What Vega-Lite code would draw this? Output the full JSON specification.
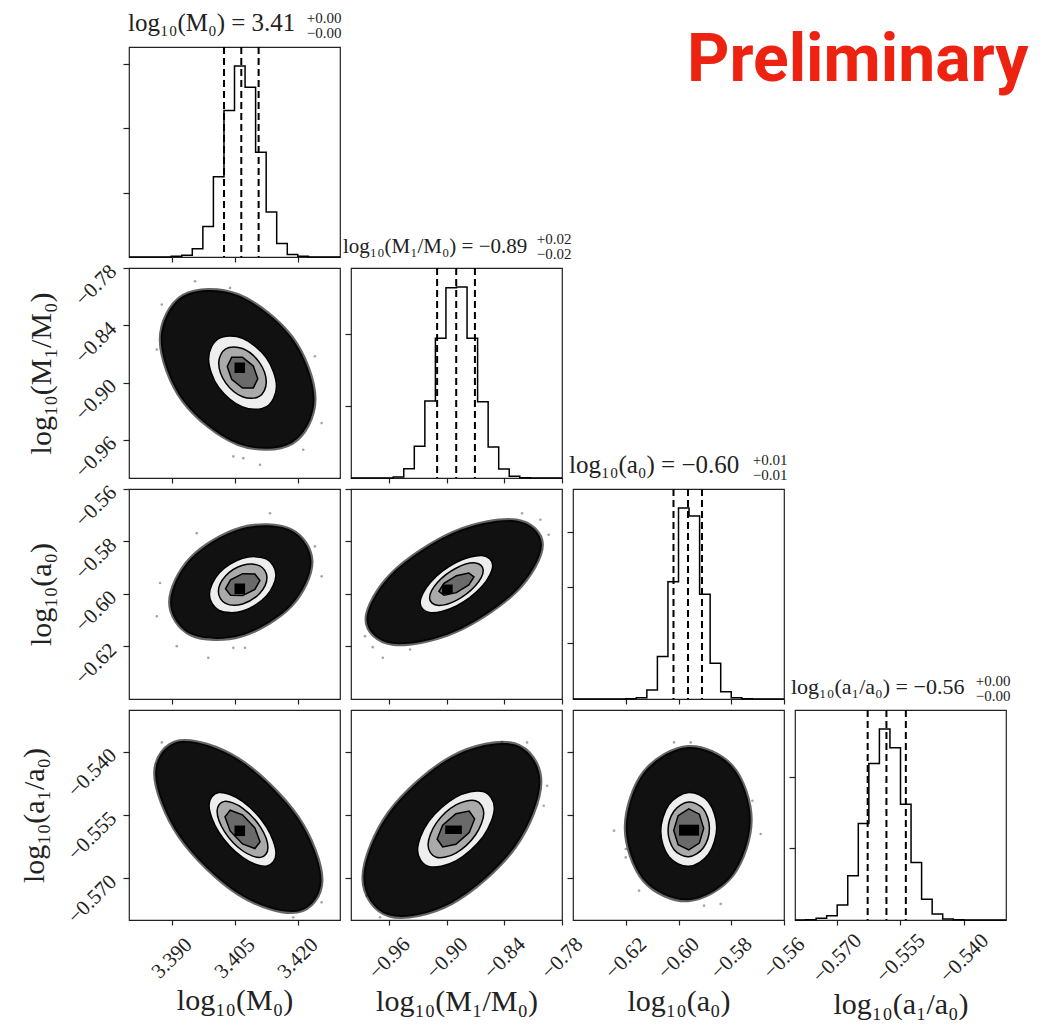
{
"$schema":"https://vega.github.io/schema/vega-lite/v6.json",
"background":"white",
"padding":{"left":18,"top":9,"right":0,"bottom":0},
"columns":4,
"spacing":{"row":11,"column":11},
"bounds":"flush",
"config":{
"font":"Liberation Serif",
"view":{"stroke":"#222","strokeWidth":1.2},
"axis":{"domain":false,"grid":false,"tickColor":"#222","tickWidth":1.2,"labelFont":"Liberation Serif","labelFontSize":21,"labelColor":"#222","labelFlush":false,"labelOverlap":false,"titleFont":"Liberation Serif","titleFontSize":30,"titleFontWeight":"normal","titleColor":"#222"},
"axisX":{"tickSize":5,"labelAngle":-45,"labelAlign":"center","labelBaseline":"middle","labelPadding":33,"titlePadding":4},
"axisY":{"tickSize":6,"labelAngle":-45,"labelAlign":"right","labelBaseline":"middle","labelPadding":10,"titlePadding":14},
"title":{"font":"Liberation Serif","fontSize":24,"fontWeight":"normal","color":"#222","anchor":"start","baseline":"alphabetic","offset":0,"frame":"group"}
},
"datasets":{
"hist":[
{"v":"A","e":3.3798,"c":0},{"v":"A","e":3.38986,"c":100},{"v":"A","e":3.39238,"c":260},{"v":"A","e":3.39489,"c":1300},{"v":"A","e":3.39741,"c":4750},{"v":"A","e":3.39992,"c":12500},{"v":"A","e":3.40244,"c":22800},{"v":"A","e":3.40495,"c":29700},{"v":"A","e":3.40747,"c":26400},{"v":"A","e":3.40998,"c":16300},{"v":"A","e":3.4125,"c":7000},{"v":"A","e":3.41501,"c":2100},{"v":"A","e":3.41753,"c":400},{"v":"A","e":3.42004,"c":100},{"v":"A","e":3.42256,"c":0},{"v":"A","e":3.4301,"c":0},
{"v":"B","e":-1.0,"c":0},{"v":"B","e":-0.956,"c":140},{"v":"B","e":-0.945,"c":1300},{"v":"B","e":-0.934,"c":4400},{"v":"B","e":-0.923,"c":10700},{"v":"B","e":-0.912,"c":19400},{"v":"B","e":-0.901,"c":26400},{"v":"B","e":-0.89,"c":26500},{"v":"B","e":-0.879,"c":19400},{"v":"B","e":-0.868,"c":10600},{"v":"B","e":-0.857,"c":4300},{"v":"B","e":-0.846,"c":1250},{"v":"B","e":-0.835,"c":230},{"v":"B","e":-0.824,"c":50},{"v":"B","e":-0.813,"c":0},{"v":"B","e":-0.78,"c":0},
{"v":"C","e":-0.64,"c":0},{"v":"C","e":-0.62,"c":50},{"v":"C","e":-0.616,"c":240},{"v":"C","e":-0.612,"c":1600},{"v":"C","e":-0.608,"c":7600},{"v":"C","e":-0.604,"c":21000},{"v":"C","e":-0.6,"c":34200},{"v":"C","e":-0.596,"c":32800},{"v":"C","e":-0.592,"c":18750},{"v":"C","e":-0.588,"c":6400},{"v":"C","e":-0.584,"c":1300},{"v":"C","e":-0.58,"c":240},{"v":"C","e":-0.576,"c":30},{"v":"C","e":-0.572,"c":0},{"v":"C","e":-0.56,"c":0},
{"v":"D","e":-0.5799,"c":0},{"v":"D","e":-0.57741,"c":50},{"v":"D","e":-0.57492,"c":230},{"v":"D","e":-0.57243,"c":600},{"v":"D","e":-0.56994,"c":2100},{"v":"D","e":-0.56745,"c":6200},{"v":"D","e":-0.56496,"c":13500},{"v":"D","e":-0.56247,"c":21900},{"v":"D","e":-0.55998,"c":26700},{"v":"D","e":-0.55749,"c":24100},{"v":"D","e":-0.555,"c":16200},{"v":"D","e":-0.55251,"c":8050},{"v":"D","e":-0.55002,"c":2900},{"v":"D","e":-0.54753,"c":840},{"v":"D","e":-0.54504,"c":140},{"v":"D","e":-0.54255,"c":50},{"v":"D","e":-0.54006,"c":0},{"v":"D","e":-0.5301,"c":0}
],
"q":[
{"v":"A","q":3.40245},{"v":"A","q":3.40657},{"v":"A","q":3.4107},
{"v":"B","q":-0.9102},{"v":"B","q":-0.8903},{"v":"B","q":-0.8708},
{"v":"C","q":-0.6019},{"v":"C","q":-0.5964},{"v":"C","q":-0.5911},
{"v":"D","q":-0.56275},{"v":"D","q":-0.55832},{"v":"D","q":-0.55374}
],
"poly":[
{"p":"21","l":"c","k":0,"x":3.42403,"y":-0.91725},{"p":"21","l":"c","k":1,"x":3.41866,"y":-0.85305},{"p":"21","l":"c","k":2,"x":3.4057,"y":-0.80824},{"p":"21","l":"c","k":3,"x":3.39274,"y":-0.80916},{"p":"21","l":"c","k":4,"x":3.38737,"y":-0.85515},{"p":"21","l":"c","k":5,"x":3.39274,"y":-0.91935},{"p":"21","l":"c","k":6,"x":3.4057,"y":-0.96416},{"p":"21","l":"c","k":7,"x":3.41866,"y":-0.96324},
{"p":"21","l":"o","k":0,"x":3.41496,"y":-0.90398},{"p":"21","l":"o","k":1,"x":3.41258,"y":-0.87429},{"p":"21","l":"o","k":2,"x":3.40686,"y":-0.85357},{"p":"21","l":"o","k":3,"x":3.40114,"y":-0.85399},{"p":"21","l":"o","k":4,"x":3.39877,"y":-0.87526},{"p":"21","l":"o","k":5,"x":3.40114,"y":-0.90495},{"p":"21","l":"o","k":6,"x":3.40686,"y":-0.92567},{"p":"21","l":"o","k":7,"x":3.41258,"y":-0.92525},
{"p":"21","l":"m","k":0,"x":3.41253,"y":-0.89967},{"p":"21","l":"m","k":1,"x":3.41087,"y":-0.87889},{"p":"21","l":"m","k":2,"x":3.40686,"y":-0.86438},{"p":"21","l":"m","k":3,"x":3.40285,"y":-0.86468},{"p":"21","l":"m","k":4,"x":3.40119,"y":-0.87957},{"p":"21","l":"m","k":5,"x":3.40285,"y":-0.90035},{"p":"21","l":"m","k":6,"x":3.40686,"y":-0.91486},{"p":"21","l":"m","k":7,"x":3.41087,"y":-0.91456},
{"p":"21","l":"i","k":0,"x":3.4105,"y":-0.89608},{"p":"21","l":"i","k":1,"x":3.40944,"y":-0.88272},{"p":"21","l":"i","k":2,"x":3.40686,"y":-0.8734},{"p":"21","l":"i","k":3,"x":3.40428,"y":-0.87359},{"p":"21","l":"i","k":4,"x":3.40322,"y":-0.88316},{"p":"21","l":"i","k":5,"x":3.40428,"y":-0.89652},{"p":"21","l":"i","k":6,"x":3.40686,"y":-0.90584},{"p":"21","l":"i","k":7,"x":3.40944,"y":-0.90565},
{"p":"31","l":"c","k":0,"x":3.42331,"y":-0.58783},{"p":"31","l":"c","k":1,"x":3.41837,"y":-0.5756},{"p":"31","l":"c","k":2,"x":3.40645,"y":-0.57501},{"p":"31","l":"c","k":3,"x":3.39453,"y":-0.58641},{"p":"31","l":"c","k":4,"x":3.38959,"y":-0.60313},{"p":"31","l":"c","k":5,"x":3.39453,"y":-0.61536},{"p":"31","l":"c","k":6,"x":3.40645,"y":-0.61595},{"p":"31","l":"c","k":7,"x":3.41837,"y":-0.60455},
{"p":"31","l":"o","k":0,"x":3.41483,"y":-0.59267},{"p":"31","l":"o","k":1,"x":3.41251,"y":-0.58664},{"p":"31","l":"o","k":2,"x":3.4069,"y":-0.58635},{"p":"31","l":"o","k":3,"x":3.40129,"y":-0.59197},{"p":"31","l":"o","k":4,"x":3.39897,"y":-0.60019},{"p":"31","l":"o","k":5,"x":3.40129,"y":-0.60622},{"p":"31","l":"o","k":6,"x":3.4069,"y":-0.60651},{"p":"31","l":"o","k":7,"x":3.41251,"y":-0.60089},
{"p":"31","l":"m","k":0,"x":3.41269,"y":-0.59368},{"p":"31","l":"m","k":1,"x":3.41099,"y":-0.58929},{"p":"31","l":"m","k":2,"x":3.4069,"y":-0.58908},{"p":"31","l":"m","k":3,"x":3.40281,"y":-0.59317},{"p":"31","l":"m","k":4,"x":3.40111,"y":-0.59918},{"p":"31","l":"m","k":5,"x":3.40281,"y":-0.60357},{"p":"31","l":"m","k":6,"x":3.4069,"y":-0.60379},{"p":"31","l":"m","k":7,"x":3.41099,"y":-0.59969},
{"p":"31","l":"i","k":0,"x":3.411,"y":-0.59487},{"p":"31","l":"i","k":1,"x":3.4098,"y":-0.59238},{"p":"31","l":"i","k":2,"x":3.4069,"y":-0.59226},{"p":"31","l":"i","k":3,"x":3.40401,"y":-0.59458},{"p":"31","l":"i","k":4,"x":3.40281,"y":-0.59799},{"p":"31","l":"i","k":5,"x":3.40401,"y":-0.60048},{"p":"31","l":"i","k":6,"x":3.4069,"y":-0.6006},{"p":"31","l":"i","k":7,"x":3.4098,"y":-0.59828},
{"p":"41","l":"c","k":0,"x":3.42569,"y":-0.57033},{"p":"41","l":"c","k":1,"x":3.41988,"y":-0.55535},{"p":"41","l":"c","k":2,"x":3.40586,"y":-0.54176},{"p":"41","l":"c","k":3,"x":3.39184,"y":-0.53753},{"p":"41","l":"c","k":4,"x":3.38603,"y":-0.54512},{"p":"41","l":"c","k":5,"x":3.39184,"y":-0.56011},{"p":"41","l":"c","k":6,"x":3.40586,"y":-0.57369},{"p":"41","l":"c","k":7,"x":3.41988,"y":-0.57792},
{"p":"41","l":"o","k":0,"x":3.41484,"y":-0.56411},{"p":"41","l":"o","k":1,"x":3.4125,"y":-0.55773},{"p":"41","l":"o","k":2,"x":3.40686,"y":-0.55175},{"p":"41","l":"o","k":3,"x":3.40122,"y":-0.54967},{"p":"41","l":"o","k":4,"x":3.39888,"y":-0.55271},{"p":"41","l":"o","k":5,"x":3.40122,"y":-0.55909},{"p":"41","l":"o","k":6,"x":3.40686,"y":-0.56507},{"p":"41","l":"o","k":7,"x":3.4125,"y":-0.56715},
{"p":"41","l":"m","k":0,"x":3.41292,"y":-0.56274},{"p":"41","l":"m","k":1,"x":3.41115,"y":-0.55789},{"p":"41","l":"m","k":2,"x":3.40686,"y":-0.55335},{"p":"41","l":"m","k":3,"x":3.40257,"y":-0.55177},{"p":"41","l":"m","k":4,"x":3.4008,"y":-0.55408},{"p":"41","l":"m","k":5,"x":3.40257,"y":-0.55893},{"p":"41","l":"m","k":6,"x":3.40686,"y":-0.56348},{"p":"41","l":"m","k":7,"x":3.41115,"y":-0.56505},
{"p":"41","l":"i","k":0,"x":3.41103,"y":-0.56137},{"p":"41","l":"i","k":1,"x":3.40981,"y":-0.55806},{"p":"41","l":"i","k":2,"x":3.40686,"y":-0.55495},{"p":"41","l":"i","k":3,"x":3.40391,"y":-0.55387},{"p":"41","l":"i","k":4,"x":3.40269,"y":-0.55545},{"p":"41","l":"i","k":5,"x":3.40391,"y":-0.55877},{"p":"41","l":"i","k":6,"x":3.40686,"y":-0.56187},{"p":"41","l":"i","k":7,"x":3.40981,"y":-0.56295},
{"p":"32","l":"c","k":0,"x":-0.80095,"y":-0.58123},{"p":"32","l":"c","k":1,"x":-0.82774,"y":-0.57197},{"p":"32","l":"c","k":2,"x":-0.89239,"y":-0.57648},{"p":"32","l":"c","k":3,"x":-0.95704,"y":-0.59213},{"p":"32","l":"c","k":4,"x":-0.98383,"y":-0.60973},{"p":"32","l":"c","k":5,"x":-0.95704,"y":-0.61899},{"p":"32","l":"c","k":6,"x":-0.89239,"y":-0.61448},{"p":"32","l":"c","k":7,"x":-0.82774,"y":-0.59883},
{"p":"32","l":"o","k":0,"x":-0.85226,"y":-0.58913},{"p":"32","l":"o","k":1,"x":-0.86334,"y":-0.58533},{"p":"32","l":"o","k":2,"x":-0.89009,"y":-0.58792},{"p":"32","l":"o","k":3,"x":-0.91684,"y":-0.59539},{"p":"32","l":"o","k":4,"x":-0.92792,"y":-0.60335},{"p":"32","l":"o","k":5,"x":-0.91684,"y":-0.60715},{"p":"32","l":"o","k":6,"x":-0.89009,"y":-0.60456},{"p":"32","l":"o","k":7,"x":-0.86334,"y":-0.59709},
{"p":"32","l":"m","k":0,"x":-0.8621,"y":-0.59098},{"p":"32","l":"m","k":1,"x":-0.8703,"y":-0.58817},{"p":"32","l":"m","k":2,"x":-0.89009,"y":-0.59009},{"p":"32","l":"m","k":3,"x":-0.90988,"y":-0.59561},{"p":"32","l":"m","k":4,"x":-0.91808,"y":-0.6015},{"p":"32","l":"m","k":5,"x":-0.90988,"y":-0.60432},{"p":"32","l":"m","k":6,"x":-0.89009,"y":-0.6024},{"p":"32","l":"m","k":7,"x":-0.8703,"y":-0.59687},
{"p":"32","l":"i","k":0,"x":-0.8718,"y":-0.59347},{"p":"32","l":"i","k":1,"x":-0.87716,"y":-0.592},{"p":"32","l":"i","k":2,"x":-0.89009,"y":-0.59301},{"p":"32","l":"i","k":3,"x":-0.90302,"y":-0.59591},{"p":"32","l":"i","k":4,"x":-0.90838,"y":-0.59901},{"p":"32","l":"i","k":5,"x":-0.90302,"y":-0.60048},{"p":"32","l":"i","k":6,"x":-0.89009,"y":-0.59948},{"p":"32","l":"i","k":7,"x":-0.87716,"y":-0.59657},
{"p":"42","l":"c","k":0,"x":-0.80252,"y":-0.54713},{"p":"42","l":"c","k":1,"x":-0.82955,"y":-0.53823},{"p":"42","l":"c","k":2,"x":-0.89479,"y":-0.54122},{"p":"42","l":"c","k":3,"x":-0.96003,"y":-0.55435},{"p":"42","l":"c","k":4,"x":-0.98706,"y":-0.56994},{"p":"42","l":"c","k":5,"x":-0.96003,"y":-0.57883},{"p":"42","l":"c","k":6,"x":-0.89479,"y":-0.57585},{"p":"42","l":"c","k":7,"x":-0.82955,"y":-0.56271},
{"p":"42","l":"o","k":0,"x":-0.85059,"y":-0.55333},{"p":"42","l":"o","k":1,"x":-0.86231,"y":-0.54943},{"p":"42","l":"o","k":2,"x":-0.89061,"y":-0.55074},{"p":"42","l":"o","k":3,"x":-0.91891,"y":-0.55649},{"p":"42","l":"o","k":4,"x":-0.93063,"y":-0.56331},{"p":"42","l":"o","k":5,"x":-0.91891,"y":-0.5672},{"p":"42","l":"o","k":6,"x":-0.89061,"y":-0.5659},{"p":"42","l":"o","k":7,"x":-0.86231,"y":-0.56015},
{"p":"42","l":"m","k":0,"x":-0.86156,"y":-0.55456},{"p":"42","l":"m","k":1,"x":-0.87007,"y":-0.55163},{"p":"42","l":"m","k":2,"x":-0.89061,"y":-0.55262},{"p":"42","l":"m","k":3,"x":-0.91115,"y":-0.55694},{"p":"42","l":"m","k":4,"x":-0.91966,"y":-0.56207},{"p":"42","l":"m","k":5,"x":-0.91115,"y":-0.565},{"p":"42","l":"m","k":6,"x":-0.89061,"y":-0.56402},{"p":"42","l":"m","k":7,"x":-0.87007,"y":-0.55969},
{"p":"42","l":"i","k":0,"x":-0.87107,"y":-0.55593},{"p":"42","l":"i","k":1,"x":-0.87679,"y":-0.55407},{"p":"42","l":"i","k":2,"x":-0.89061,"y":-0.5547},{"p":"42","l":"i","k":3,"x":-0.90443,"y":-0.55744},{"p":"42","l":"i","k":4,"x":-0.91015,"y":-0.5607},{"p":"42","l":"i","k":5,"x":-0.90443,"y":-0.56256},{"p":"42","l":"i","k":6,"x":-0.89061,"y":-0.56194},{"p":"42","l":"i","k":7,"x":-0.87679,"y":-0.55919},
{"p":"43","l":"c","k":0,"x":-0.57262,"y":-0.55615},{"p":"43","l":"c","k":1,"x":-0.57956,"y":-0.54357},{"p":"43","l":"c","k":2,"x":-0.59631,"y":-0.5389},{"p":"43","l":"c","k":3,"x":-0.61306,"y":-0.54486},{"p":"43","l":"c","k":4,"x":-0.62,"y":-0.55797},{"p":"43","l":"c","k":5,"x":-0.61306,"y":-0.57055},{"p":"43","l":"c","k":6,"x":-0.59631,"y":-0.57522},{"p":"43","l":"c","k":7,"x":-0.57956,"y":-0.56926},
{"p":"43","l":"o","k":0,"x":-0.58551,"y":-0.55797},{"p":"43","l":"o","k":1,"x":-0.58862,"y":-0.5519},{"p":"43","l":"o","k":2,"x":-0.59612,"y":-0.54965},{"p":"43","l":"o","k":3,"x":-0.60362,"y":-0.55253},{"p":"43","l":"o","k":4,"x":-0.60673,"y":-0.55885},{"p":"43","l":"o","k":5,"x":-0.60362,"y":-0.56492},{"p":"43","l":"o","k":6,"x":-0.59612,"y":-0.56717},{"p":"43","l":"o","k":7,"x":-0.58862,"y":-0.5643},
{"p":"43","l":"m","k":0,"x":-0.58827,"y":-0.55809},{"p":"43","l":"m","k":1,"x":-0.59057,"y":-0.55359},{"p":"43","l":"m","k":2,"x":-0.59612,"y":-0.55193},{"p":"43","l":"m","k":3,"x":-0.60167,"y":-0.55406},{"p":"43","l":"m","k":4,"x":-0.60397,"y":-0.55874},{"p":"43","l":"m","k":5,"x":-0.60167,"y":-0.56323},{"p":"43","l":"m","k":6,"x":-0.59612,"y":-0.56489},{"p":"43","l":"m","k":7,"x":-0.59057,"y":-0.56277},
{"p":"43","l":"i","k":0,"x":-0.59044,"y":-0.55817},{"p":"43","l":"i","k":1,"x":-0.5921,"y":-0.55481},{"p":"43","l":"i","k":2,"x":-0.59612,"y":-0.55356},{"p":"43","l":"i","k":3,"x":-0.60014,"y":-0.55515},{"p":"43","l":"i","k":4,"x":-0.60181,"y":-0.55865},{"p":"43","l":"i","k":5,"x":-0.60014,"y":-0.56202},{"p":"43","l":"i","k":6,"x":-0.59612,"y":-0.56326},{"p":"43","l":"i","k":7,"x":-0.5921,"y":-0.56167}
],
"cells":[
{"p":"21","x":3.40495,"x2":3.40747,"y":-0.89,"y2":-0.879},
{"p":"31","x":3.40495,"x2":3.40747,"y":-0.6,"y2":-0.596},
{"p":"41","x":3.40495,"x2":3.40747,"y":-0.56,"y2":-0.5575},
{"p":"32","x":-0.905,"x2":-0.894,"y":-0.6,"y2":-0.5964},
{"p":"42","x":-0.9018,"x2":-0.8844,"y":-0.5595,"y2":-0.5575},
{"p":"43","x":-0.5998,"x2":-0.5922,"y":-0.5599,"y2":-0.5573}
],
"pts":[
{"p":"21","x":3.38643,"y":-0.86549},{"p":"21","x":3.38762,"y":-0.81829},{"p":"21","x":3.39555,"y":-0.79384},{"p":"21","x":3.42572,"y":-0.94249},{"p":"21","x":3.42412,"y":-0.87252},{"p":"21","x":3.40467,"y":-0.97742},{"p":"21","x":3.40705,"y":-0.9792},{"p":"21","x":3.41102,"y":-0.98613},{"p":"21","x":3.42133,"y":-0.97039},{"p":"21","x":3.40388,"y":-0.80087},
{"p":"31","x":3.38643,"y":-0.60847},{"p":"31","x":3.39871,"y":-0.62432},{"p":"31","x":3.40467,"y":-0.62052},{"p":"31","x":3.40745,"y":-0.62052},{"p":"31","x":3.42572,"y":-0.59327},{"p":"31","x":3.42412,"y":-0.58187},{"p":"31","x":3.41341,"y":-0.56922},{"p":"31","x":3.39595,"y":-0.57682},{"p":"31","x":3.38721,"y":-0.59582},{"p":"31","x":3.39119,"y":-0.61987},
{"p":"41","x":3.38762,"y":-0.53779},{"p":"41","x":3.38643,"y":-0.54291},{"p":"41","x":3.39079,"y":-0.53936},{"p":"41","x":3.39833,"y":-0.53858},{"p":"41","x":3.42371,"y":-0.56543},{"p":"41","x":3.42572,"y":-0.57571},{"p":"41","x":3.41895,"y":-0.57927},{"p":"41","x":3.42174,"y":-0.5769},{"p":"41","x":3.39476,"y":-0.56109},
{"p":"32","x":-0.97735,"y":-0.62025},{"p":"32","x":-0.9669,"y":-0.62432},{"p":"32","x":-0.98539,"y":-0.61607},{"p":"32","x":-0.98017,"y":-0.61102},{"p":"32","x":-0.82164,"y":-0.56922},{"p":"32","x":-0.80252,"y":-0.57173},{"p":"32","x":-0.79385,"y":-0.57743},{"p":"32","x":-0.84432,"y":-0.60213},{"p":"32","x":-0.89657,"y":-0.58123},{"p":"32","x":-0.93837,"y":-0.62113},
{"p":"42","x":-0.97839,"y":-0.56346},{"p":"42","x":-0.97839,"y":-0.56543},{"p":"42","x":-0.96972,"y":-0.57927},{"p":"42","x":-0.98362,"y":-0.57413},{"p":"42","x":-0.79552,"y":-0.54806},{"p":"42","x":-0.80774,"y":-0.5449},{"p":"42","x":-0.81642,"y":-0.53779},{"p":"42","x":-0.84254,"y":-0.53779},{"p":"42","x":-0.96627,"y":-0.55912},{"p":"42","x":-0.79907,"y":-0.5528},
{"p":"43","x":-0.62443,"y":-0.55872},{"p":"43","x":-0.62,"y":-0.56306},{"p":"43","x":-0.62,"y":-0.56505},{"p":"43","x":-0.60169,"y":-0.53779},{"p":"43","x":-0.59537,"y":-0.53779},{"p":"43","x":-0.56884,"y":-0.5595},{"p":"43","x":-0.57198,"y":-0.55161},{"p":"43","x":-0.584,"y":-0.57609},{"p":"43","x":-0.59032,"y":-0.5765},{"p":"43","x":-0.61496,"y":-0.57294}
]
},
"concat":[
{"width":211,"height":210,
 "title":{"text":"log₁₀(M₀) = 3.41","fontSize":25,"dx":-1,"dy":30},
 "layer":[
  {"data":{"name":"hist"},"transform":[{"filter":"datum.v=='A'"}],"mark":{"type":"line","interpolate":"step-after","color":"#000","strokeWidth":1.5},
   "encoding":{"x":{"field":"e","type":"quantitative","scale":{"domain":[3.3798,3.4301],"nice":false,"zero":false},"axis":{"values":[3.39,3.405,3.42],"labels":false,"title":null}},
               "y":{"field":"c","type":"quantitative","scale":{"domain":[0,32670],"nice":false},"axis":{"values":[10000,20000,30000],"labels":false,"title":null}}}},
  {"data":{"name":"q"},"transform":[{"filter":"datum.v=='A'"}],"mark":{"type":"rule","color":"#000","strokeWidth":2,"strokeDash":[7,4]},
   "encoding":{"x":{"field":"q","type":"quantitative","scale":{"domain":[3.3798,3.4301],"nice":false,"zero":false},"axis":{"orient":"top","ticks":false,"labels":false,"title":["+0.00","−0.00"],"titleFontSize":15,"titleAlign":"right","titleBaseline":"alphabetic","titleX":212,"titleY":-25,"titleLineHeight":15}}}}
 ],
 "resolve":{"axis":{"x":"independent"}}},
{"width":211,"height":210,"data":{"values":[]},"mark":"point","view":{"stroke":null}},
{"width":211,"height":210,"data":{"values":[]},"mark":"point","view":{"stroke":null}},
{"width":211,"height":210,"data":{"values":[{"t":"Preliminary"}]},"mark":{"type":"text","font":"Roboto","fontWeight":"bold","fontSize":66,"color":"#EE2211","align":"right","baseline":"alphabetic","dx":128,"dy":-71},"encoding":{"text":{"field":"t"}},"view":{"stroke":null}},

{"width":211,"height":210,
 "encoding":{"x":{"field":"x","type":"quantitative","scale":{"domain":[3.3798,3.4301],"nice":false,"zero":false},"axis":{"values":[3.39,3.405,3.42],"labels":false,"title":null}},
             "y":{"field":"y","type":"quantitative","scale":{"domain":[-1.0,-0.78],"nice":false,"zero":false},"axis":{"values":[-0.96,-0.9,-0.84,-0.78],"format":".2f","title":"log₁₀(M₁/M₀)"}}},
 "layer":[
  {"data":{"name":"pts"},"transform":[{"filter":"datum.p=='21'"}],"mark":{"type":"circle","size":7,"color":"#000","opacity":0.35}},
  {"data":{"name":"poly"},"transform":[{"filter":"datum.p=='21' && datum.l=='c'"}],"mark":{"type":"line","interpolate":"cardinal-closed","fill":"#111","stroke":"#000","strokeWidth":4,"strokeOpacity":0.6},"encoding":{"order":{"field":"k"}}},
  {"data":{"name":"poly"},"transform":[{"filter":"datum.p=='21' && datum.l=='o'"}],"mark":{"type":"line","interpolate":"cardinal-closed","fill":"#eeeeee","stroke":"#000","strokeWidth":1.5},"encoding":{"order":{"field":"k"}}},
  {"data":{"name":"poly"},"transform":[{"filter":"datum.p=='21' && datum.l=='m'"}],"mark":{"type":"line","interpolate":"cardinal-closed","fill":"#aaaaaa","stroke":"#000","strokeWidth":1.5},"encoding":{"order":{"field":"k"}}},
  {"data":{"name":"poly"},"transform":[{"filter":"datum.p=='21' && datum.l=='i'"}],"mark":{"type":"line","interpolate":"linear-closed","fill":"#6a6a6a","stroke":"#000","strokeWidth":1.5},"encoding":{"order":{"field":"k"}}},
  {"data":{"name":"cells"},"transform":[{"filter":"datum.p=='21'"}],"mark":{"type":"rect","color":"#000"},"encoding":{"x2":{"field":"x2"},"y2":{"field":"y2"}}}
 ]},
{"width":211,"height":210,
 "title":{"text":"log₁₀(M₁/M₀) = −0.89","fontSize":21,"dx":-8,"dy":30},
 "layer":[
  {"data":{"name":"hist"},"transform":[{"filter":"datum.v=='B'"}],"mark":{"type":"line","interpolate":"step-after","color":"#000","strokeWidth":1.5},
   "encoding":{"x":{"field":"e","type":"quantitative","scale":{"domain":[-1.0,-0.78],"nice":false,"zero":false},"axis":{"values":[-0.96,-0.9,-0.84,-0.78],"labels":false,"title":null}},
               "y":{"field":"c","type":"quantitative","scale":{"domain":[0,29150],"nice":false},"axis":{"values":[10000,20000],"labels":false,"title":null}}}},
  {"data":{"name":"q"},"transform":[{"filter":"datum.v=='B'"}],"mark":{"type":"rule","color":"#000","strokeWidth":2,"strokeDash":[7,4]},
   "encoding":{"x":{"field":"q","type":"quantitative","scale":{"domain":[-1.0,-0.78],"nice":false,"zero":false},"axis":{"orient":"top","ticks":false,"labels":false,"title":["+0.02","−0.02"],"titleFontSize":15,"titleAlign":"right","titleBaseline":"alphabetic","titleX":220,"titleY":-25,"titleLineHeight":15}}}}
 ],
 "resolve":{"axis":{"x":"independent"}}},
{"width":211,"height":210,"data":{"values":[]},"mark":"point","view":{"stroke":null}},
{"width":211,"height":210,"data":{"values":[]},"mark":"point","view":{"stroke":null}},

{"width":211,"height":210,
 "encoding":{"x":{"field":"x","type":"quantitative","scale":{"domain":[3.3798,3.4301],"nice":false,"zero":false},"axis":{"values":[3.39,3.405,3.42],"labels":false,"title":null}},
             "y":{"field":"y","type":"quantitative","scale":{"domain":[-0.64,-0.56],"nice":false,"zero":false},"axis":{"values":[-0.62,-0.6,-0.58,-0.56],"format":".2f","title":"log₁₀(a₀)"}}},
 "layer":[
  {"data":{"name":"pts"},"transform":[{"filter":"datum.p=='31'"}],"mark":{"type":"circle","size":7,"color":"#000","opacity":0.35}},
  {"data":{"name":"poly"},"transform":[{"filter":"datum.p=='31' && datum.l=='c'"}],"mark":{"type":"line","interpolate":"cardinal-closed","fill":"#111","stroke":"#000","strokeWidth":4,"strokeOpacity":0.6},"encoding":{"order":{"field":"k"}}},
  {"data":{"name":"poly"},"transform":[{"filter":"datum.p=='31' && datum.l=='o'"}],"mark":{"type":"line","interpolate":"cardinal-closed","fill":"#eeeeee","stroke":"#000","strokeWidth":1.5},"encoding":{"order":{"field":"k"}}},
  {"data":{"name":"poly"},"transform":[{"filter":"datum.p=='31' && datum.l=='m'"}],"mark":{"type":"line","interpolate":"cardinal-closed","fill":"#aaaaaa","stroke":"#000","strokeWidth":1.5},"encoding":{"order":{"field":"k"}}},
  {"data":{"name":"poly"},"transform":[{"filter":"datum.p=='31' && datum.l=='i'"}],"mark":{"type":"line","interpolate":"linear-closed","fill":"#6a6a6a","stroke":"#000","strokeWidth":1.5},"encoding":{"order":{"field":"k"}}},
  {"data":{"name":"cells"},"transform":[{"filter":"datum.p=='31'"}],"mark":{"type":"rect","color":"#000"},"encoding":{"x2":{"field":"x2"},"y2":{"field":"y2"}}}
 ]},
{"width":211,"height":210,
 "encoding":{"x":{"field":"x","type":"quantitative","scale":{"domain":[-1.0,-0.78],"nice":false,"zero":false},"axis":{"values":[-0.96,-0.9,-0.84,-0.78],"labels":false,"title":null}},
             "y":{"field":"y","type":"quantitative","scale":{"domain":[-0.64,-0.56],"nice":false,"zero":false},"axis":{"values":[-0.62,-0.6,-0.58,-0.56],"labels":false,"title":null}}},
 "layer":[
  {"data":{"name":"pts"},"transform":[{"filter":"datum.p=='32'"}],"mark":{"type":"circle","size":7,"color":"#000","opacity":0.35}},
  {"data":{"name":"poly"},"transform":[{"filter":"datum.p=='32' && datum.l=='c'"}],"mark":{"type":"line","interpolate":"cardinal-closed","fill":"#111","stroke":"#000","strokeWidth":4,"strokeOpacity":0.6},"encoding":{"order":{"field":"k"}}},
  {"data":{"name":"poly"},"transform":[{"filter":"datum.p=='32' && datum.l=='o'"}],"mark":{"type":"line","interpolate":"cardinal-closed","fill":"#eeeeee","stroke":"#000","strokeWidth":1.5},"encoding":{"order":{"field":"k"}}},
  {"data":{"name":"poly"},"transform":[{"filter":"datum.p=='32' && datum.l=='m'"}],"mark":{"type":"line","interpolate":"cardinal-closed","fill":"#aaaaaa","stroke":"#000","strokeWidth":1.5},"encoding":{"order":{"field":"k"}}},
  {"data":{"name":"poly"},"transform":[{"filter":"datum.p=='32' && datum.l=='i'"}],"mark":{"type":"line","interpolate":"linear-closed","fill":"#6a6a6a","stroke":"#000","strokeWidth":1.5},"encoding":{"order":{"field":"k"}}},
  {"data":{"name":"cells"},"transform":[{"filter":"datum.p=='32'"}],"mark":{"type":"rect","color":"#000"},"encoding":{"x2":{"field":"x2"},"y2":{"field":"y2"}}}
 ]},
{"width":211,"height":210,
 "title":{"text":"log₁₀(a₀) = −0.60","fontSize":25,"dx":-4,"dy":30},
 "layer":[
  {"data":{"name":"hist"},"transform":[{"filter":"datum.v=='C'"}],"mark":{"type":"line","interpolate":"step-after","color":"#000","strokeWidth":1.5},
   "encoding":{"x":{"field":"e","type":"quantitative","scale":{"domain":[-0.64,-0.56],"nice":false,"zero":false},"axis":{"values":[-0.62,-0.6,-0.58,-0.56],"labels":false,"title":null}},
               "y":{"field":"c","type":"quantitative","scale":{"domain":[0,37620],"nice":false},"axis":{"values":[10000,20000,30000],"labels":false,"title":null}}}},
  {"data":{"name":"q"},"transform":[{"filter":"datum.v=='C'"}],"mark":{"type":"rule","color":"#000","strokeWidth":2,"strokeDash":[7,4]},
   "encoding":{"x":{"field":"q","type":"quantitative","scale":{"domain":[-0.64,-0.56],"nice":false,"zero":false},"axis":{"orient":"top","ticks":false,"labels":false,"title":["+0.01","−0.01"],"titleFontSize":15,"titleAlign":"right","titleBaseline":"alphabetic","titleX":214,"titleY":-25,"titleLineHeight":15}}}}
 ],
 "resolve":{"axis":{"x":"independent"}}},
{"width":211,"height":210,"data":{"values":[]},"mark":"point","view":{"stroke":null}},

{"width":211,"height":210,
 "encoding":{"x":{"field":"x","type":"quantitative","scale":{"domain":[3.3798,3.4301],"nice":false,"zero":false},"axis":{"values":[3.39,3.405,3.42],"format":".3f","title":"log₁₀(M₀)"}},
             "y":{"field":"y","type":"quantitative","scale":{"domain":[-0.5799,-0.5301],"nice":false,"zero":false},"axis":{"values":[-0.57,-0.555,-0.54],"format":".3f","title":"log₁₀(a₁/a₀)"}}},
 "layer":[
  {"data":{"name":"pts"},"transform":[{"filter":"datum.p=='41'"}],"mark":{"type":"circle","size":7,"color":"#000","opacity":0.35}},
  {"data":{"name":"poly"},"transform":[{"filter":"datum.p=='41' && datum.l=='c'"}],"mark":{"type":"line","interpolate":"cardinal-closed","fill":"#111","stroke":"#000","strokeWidth":4,"strokeOpacity":0.6},"encoding":{"order":{"field":"k"}}},
  {"data":{"name":"poly"},"transform":[{"filter":"datum.p=='41' && datum.l=='o'"}],"mark":{"type":"line","interpolate":"cardinal-closed","fill":"#eeeeee","stroke":"#000","strokeWidth":1.5},"encoding":{"order":{"field":"k"}}},
  {"data":{"name":"poly"},"transform":[{"filter":"datum.p=='41' && datum.l=='m'"}],"mark":{"type":"line","interpolate":"cardinal-closed","fill":"#aaaaaa","stroke":"#000","strokeWidth":1.5},"encoding":{"order":{"field":"k"}}},
  {"data":{"name":"poly"},"transform":[{"filter":"datum.p=='41' && datum.l=='i'"}],"mark":{"type":"line","interpolate":"linear-closed","fill":"#6a6a6a","stroke":"#000","strokeWidth":1.5},"encoding":{"order":{"field":"k"}}},
  {"data":{"name":"cells"},"transform":[{"filter":"datum.p=='41'"}],"mark":{"type":"rect","color":"#000"},"encoding":{"x2":{"field":"x2"},"y2":{"field":"y2"}}}
 ]},
{"width":211,"height":210,
 "encoding":{"x":{"field":"x","type":"quantitative","scale":{"domain":[-1.0,-0.78],"nice":false,"zero":false},"axis":{"values":[-0.96,-0.9,-0.84,-0.78],"format":".2f","title":"log₁₀(M₁/M₀)"}},
             "y":{"field":"y","type":"quantitative","scale":{"domain":[-0.5799,-0.5301],"nice":false,"zero":false},"axis":{"values":[-0.57,-0.555,-0.54],"labels":false,"title":null}}},
 "layer":[
  {"data":{"name":"pts"},"transform":[{"filter":"datum.p=='42'"}],"mark":{"type":"circle","size":7,"color":"#000","opacity":0.35}},
  {"data":{"name":"poly"},"transform":[{"filter":"datum.p=='42' && datum.l=='c'"}],"mark":{"type":"line","interpolate":"cardinal-closed","fill":"#111","stroke":"#000","strokeWidth":4,"strokeOpacity":0.6},"encoding":{"order":{"field":"k"}}},
  {"data":{"name":"poly"},"transform":[{"filter":"datum.p=='42' && datum.l=='o'"}],"mark":{"type":"line","interpolate":"cardinal-closed","fill":"#eeeeee","stroke":"#000","strokeWidth":1.5},"encoding":{"order":{"field":"k"}}},
  {"data":{"name":"poly"},"transform":[{"filter":"datum.p=='42' && datum.l=='m'"}],"mark":{"type":"line","interpolate":"cardinal-closed","fill":"#aaaaaa","stroke":"#000","strokeWidth":1.5},"encoding":{"order":{"field":"k"}}},
  {"data":{"name":"poly"},"transform":[{"filter":"datum.p=='42' && datum.l=='i'"}],"mark":{"type":"line","interpolate":"linear-closed","fill":"#6a6a6a","stroke":"#000","strokeWidth":1.5},"encoding":{"order":{"field":"k"}}},
  {"data":{"name":"cells"},"transform":[{"filter":"datum.p=='42'"}],"mark":{"type":"rect","color":"#000"},"encoding":{"x2":{"field":"x2"},"y2":{"field":"y2"}}}
 ]},
{"width":211,"height":210,
 "encoding":{"x":{"field":"x","type":"quantitative","scale":{"domain":[-0.64,-0.56],"nice":false,"zero":false},"axis":{"values":[-0.62,-0.6,-0.58,-0.56],"format":".2f","title":"log₁₀(a₀)"}},
             "y":{"field":"y","type":"quantitative","scale":{"domain":[-0.5799,-0.5301],"nice":false,"zero":false},"axis":{"values":[-0.57,-0.555,-0.54],"labels":false,"title":null}}},
 "layer":[
  {"data":{"name":"pts"},"transform":[{"filter":"datum.p=='43'"}],"mark":{"type":"circle","size":7,"color":"#000","opacity":0.35}},
  {"data":{"name":"poly"},"transform":[{"filter":"datum.p=='43' && datum.l=='c'"}],"mark":{"type":"line","interpolate":"cardinal-closed","fill":"#111","stroke":"#000","strokeWidth":4,"strokeOpacity":0.6},"encoding":{"order":{"field":"k"}}},
  {"data":{"name":"poly"},"transform":[{"filter":"datum.p=='43' && datum.l=='o'"}],"mark":{"type":"line","interpolate":"cardinal-closed","fill":"#eeeeee","stroke":"#000","strokeWidth":1.5},"encoding":{"order":{"field":"k"}}},
  {"data":{"name":"poly"},"transform":[{"filter":"datum.p=='43' && datum.l=='m'"}],"mark":{"type":"line","interpolate":"cardinal-closed","fill":"#aaaaaa","stroke":"#000","strokeWidth":1.5},"encoding":{"order":{"field":"k"}}},
  {"data":{"name":"poly"},"transform":[{"filter":"datum.p=='43' && datum.l=='i'"}],"mark":{"type":"line","interpolate":"linear-closed","fill":"#6a6a6a","stroke":"#000","strokeWidth":1.5},"encoding":{"order":{"field":"k"}}},
  {"data":{"name":"cells"},"transform":[{"filter":"datum.p=='43'"}],"mark":{"type":"rect","color":"#000"},"encoding":{"x2":{"field":"x2"},"y2":{"field":"y2"}}}
 ]},
{"width":211,"height":210,
 "title":{"text":"log₁₀(a₁/a₀) = −0.56","fontSize":22,"dx":-4,"dy":30},
 "layer":[
  {"data":{"name":"hist"},"transform":[{"filter":"datum.v=='D'"}],"mark":{"type":"line","interpolate":"step-after","color":"#000","strokeWidth":1.5},
   "encoding":{"x":{"field":"e","type":"quantitative","scale":{"domain":[-0.5799,-0.5301],"nice":false,"zero":false},"axis":{"values":[-0.57,-0.555,-0.54],"format":".3f","title":"log₁₀(a₁/a₀)"}},
               "y":{"field":"c","type":"quantitative","scale":{"domain":[0,29370],"nice":false},"axis":{"values":[10000,20000],"labels":false,"title":null}}}},
  {"data":{"name":"q"},"transform":[{"filter":"datum.v=='D'"}],"mark":{"type":"rule","color":"#000","strokeWidth":2,"strokeDash":[7,4]},
   "encoding":{"x":{"field":"q","type":"quantitative","scale":{"domain":[-0.5799,-0.5301],"nice":false,"zero":false},"axis":{"orient":"top","ticks":false,"labels":false,"title":["+0.00","−0.00"],"titleFontSize":15,"titleAlign":"right","titleBaseline":"alphabetic","titleX":215,"titleY":-25,"titleLineHeight":15}}}}
 ],
 "resolve":{"axis":{"x":"independent"}}}
]
}
